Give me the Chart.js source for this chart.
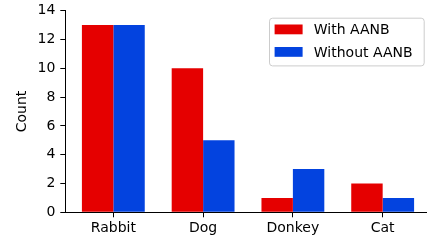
<!DOCTYPE html>
<html>
<head>
<meta charset="utf-8">
<script src="https://cdn.jsdelivr.net/npm/chart.js@4.4.1/dist/chart.umd.min.js"></script>
<style>
  html, body { margin: 0; padding: 0; background: #fff; overflow: hidden; }
  #wrap { width: 432px; height: 242px; }
</style>
</head>
<body>
<div id="wrap"><canvas id="chart"></canvas></div>
<script>
// --- data ---
const categories = ['Rabbit', 'Dog', 'Donkey', 'Cat'];
const withAanb = [13, 10, 1, 2];
const withoutAanb = [13, 5, 3, 1];
const yTicks = [0, 2, 4, 6, 8, 10, 12, 14];

const FONT = 'DejaVu Sans';
Chart.defaults.font.family = FONT;
Chart.defaults.font.size = 14;
Chart.defaults.color = '#000';

// matplotlib-style legend box in the upper right of the plot area
const boxLegend = {
    id: 'boxLegend',
    afterDraw(chart) {
        const { ctx, chartArea } = chart;
        const ds = chart.data.datasets;
        ctx.save();
        ctx.font = '14px "' + FONT + '"';
        const w = 154.7;
        const h = 47.7;
        const right = chartArea.right - 7;
        const top = chartArea.top + 7;
        const left = right - w;
        ctx.beginPath();
        ctx.roundRect(left + 0.5, top + 0.5, w, h, 3);
        ctx.fillStyle = 'rgba(255,255,255,0.8)';
        ctx.fill();
        ctx.strokeStyle = '#cccccc';
        ctx.lineWidth = 1;
        ctx.stroke();
        ds.forEach((d, i) => {
            const cy = top + 11.7 + i * 22.5;
            ctx.fillStyle = d.backgroundColor;
            ctx.fillRect(left + 5.6, cy - 4.9, 28, 9.8);
            ctx.fillStyle = '#000';
            ctx.textBaseline = 'middle';
            ctx.fillText(d.label, left + 5.6 + 28 + 11.2, cy + 1);
        });
        ctx.restore();
    }
};

const toPoints = arr => arr.map((v, i) => ({ x: i, y: v }));

new Chart(document.getElementById('chart'), {
    type: 'bar',
    data: {
        datasets: [
            { label: 'With AANB', data: toPoints(withAanb), backgroundColor: '#e50000', borderWidth: 0,
              inflateAmount: 0, categoryPercentage: 0.7, barPercentage: 1 },
            { label: 'Without AANB', data: toPoints(withoutAanb), backgroundColor: '#0343df', borderWidth: 0,
              inflateAmount: 0, categoryPercentage: 0.7, barPercentage: 1 }
        ]
    },
    options: {
        responsive: true, maintainAspectRatio: false, animation: false,
        layout: { padding: { left: 14, top: 10.7, right: 1.3, bottom: 0 } },
        plugins: { legend: { display: false }, tooltip: { enabled: false } },
        scales: {
            x: {
                type: 'linear', min: -0.535, max: 3.535, offset: false,
                afterBuildTicks: s => { s.ticks = categories.map((c, i) => ({ value: i })); },
                afterFit: s => { s.height = 29.7; },
                ticks: { callback: v => categories[v], padding: 3, maxRotation: 0, autoSkip: false },
                grid: { offset: false, drawOnChartArea: false, drawTicks: true, tickLength: 5, tickColor: '#000', tickWidth: 1 },
                border: { display: true, color: '#000', width: 1 }
            },
            y: {
                min: 0, max: 14,
                afterBuildTicks: s => { s.ticks = yTicks.map(v => ({ value: v })); },
                afterFit: s => { s.width = 51.3; s.paddingTop = 0; s.paddingBottom = 0; },
                ticks: { padding: 5 },
                grid: { drawOnChartArea: false, drawTicks: true, tickLength: 5, tickColor: '#000', tickWidth: 1 },
                border: { display: true, color: '#000', width: 1 },
                title: { display: true, text: 'Count', padding: { top: 0, bottom: 6 } }
            }
        }
    },
    plugins: [boxLegend]
});
</script>
</body>
</html>
